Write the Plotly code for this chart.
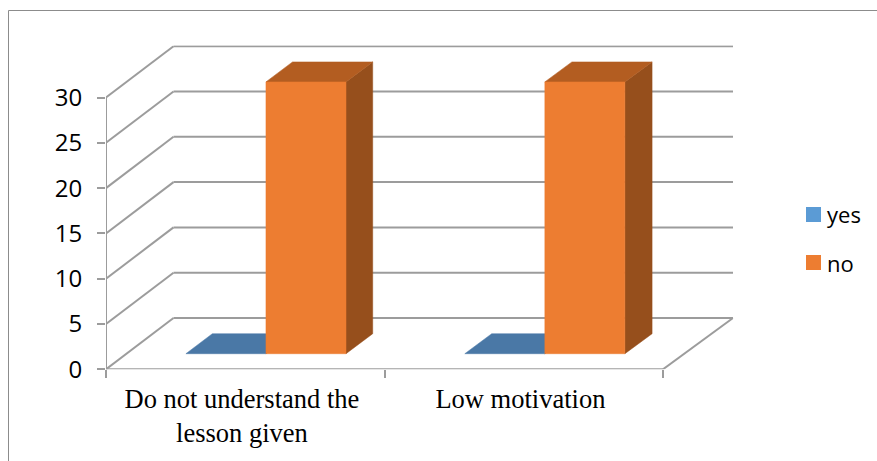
import plotly.graph_objects as go

# Survey answers per category
categories = ["Do not understand the<br>lesson given", "Low motivation"]
series_names = ["yes", "no"]
yes_values = [0, 0]
no_values = [30, 30]
value_ticks = [0, 5, 10, 15, 20, 25, 30]

SERIES_COLORS = {"yes": "#5B9BD5", "no": "#ED7D31"}
TOP_COLORS = {"yes": "#4A78A6", "no": "#B35D21"}
SIDE_COLORS = {"yes": "#3F6A94", "no": "#964F1C"}
GRID = "#9C9C9C"
TEXT = "#000000"

# Oblique projection of the 3D box onto the flat axes
DEPTH_X = 0.2424
DEPTH_X_STRETCH = 0.0045
DEPTH_Y = 5.66
BAR_WIDTH = 0.287
BAR_NEAR, BAR_FAR = 0.304, 0.694


def project(c, v, d):
    return c + d * (DEPTH_X + DEPTH_X_STRETCH * c), v + d * DEPTH_Y


def polygon(corners):
    pts = [project(*p) for p in corners]
    pts.append(pts[0])
    return [p[0] for p in pts], [p[1] for p in pts]


fig = go.Figure()


def add_line(corners):
    xs, ys = zip(*[project(*p) for p in corners])
    fig.add_trace(go.Scatter(x=xs, y=ys, mode="lines", cliponaxis=False, showlegend=False,
                             hoverinfo="skip", line=dict(color=GRID, width=2)))


def add_face(corners, color):
    xs, ys = polygon(corners)
    fig.add_trace(go.Scatter(x=xs, y=ys, mode="lines", fill="toself", fillcolor=color,
                             cliponaxis=False, showlegend=False, hoverinfo="skip",
                             line=dict(color=color, width=0.5)))


n_cat = len(categories)

# Walls: back gridlines and the diagonals running along the left side
for v in value_ticks:
    add_line([(0, v, 1), (n_cat, v, 1)])
    add_line([(0, v, 0), (0, v, 1)])

# Floor edges and the vertical value axis
add_line([(0, 0, 0), (n_cat, 0, 0)])
add_line([(n_cat, 0, 0), (n_cat, 0, 1)])
add_line([(0, 0, 0), (0, value_ticks[-1], 0)])


def add_bar(left, value, name):
    right = left + BAR_WIDTH
    near, far = BAR_NEAR, BAR_FAR
    add_face([(right, 0, near), (right, 0, far), (right, value, far), (right, value, near)], SIDE_COLORS[name])
    add_face([(left, value, near), (right, value, near), (right, value, far), (left, value, far)], TOP_COLORS[name])
    if value > 0:
        add_face([(left, 0, near), (right, 0, near), (right, value, near), (left, value, near)], SERIES_COLORS[name])


for i in range(n_cat):
    center = i + 0.5
    add_bar(center - BAR_WIDTH, yes_values[i], "yes")
    add_bar(center, no_values[i], "no")

W, H = 877, 461
left_px, right_px = 106, 733.3
bottom_px, top_px = 369.3, 45.5
x_max = (right_px - left_px) / 278.5
y_max = (bottom_px - top_px) / 9.06

# Legend keys and labels at the right of the chart
shapes = [
    dict(type="line", xref="paper", yref="paper", x0=8.5 / W, x1=8.5 / W, y0=0, y1=1 - 10.5 / H,
         line=dict(color="#8C8C8C", width=1)),
    dict(type="line", xref="paper", yref="paper", x0=8.5 / W, x1=1, y0=1 - 10.5 / H, y1=1 - 10.5 / H,
         line=dict(color="#8C8C8C", width=1)),
]
annotations = []
for name, key_top in zip(series_names, (207, 255)):
    shapes.append(dict(type="rect", xref="paper", yref="paper",
                       x0=806 / W, x1=821 / W, y0=1 - (key_top + 15) / H, y1=1 - key_top / H,
                       fillcolor=SERIES_COLORS[name], line=dict(width=0)))
    annotations.append(dict(text=name, xref="paper", yref="paper", showarrow=False,
                            x=825 / W, y=1 - (key_top + 7.5) / H, xanchor="left", yanchor="middle",
                            font=dict(family="Open Sans", size=22, color=TEXT)))

fig.update_layout(
    width=W, height=H,
    margin=dict(l=0, r=0, t=0, b=0, autoexpand=False),
    paper_bgcolor="white", plot_bgcolor="white",
    showlegend=False,
    xaxis=dict(
        domain=[left_px / W, right_px / W], range=[0, x_max],
        showgrid=False, zeroline=False, showline=False,
        tickmode="array", tickvals=[i + 0.488 for i in range(n_cat)], ticktext=categories,
        ticks="", tickangle=0, ticklabelstandoff=11,
        tickfont=dict(family="Liberation Serif", size=26.5, color=TEXT),
        minor=dict(tickmode="array", tickvals=list(range(n_cat + 1)), ticks="outside",
                   ticklen=8, tickcolor=GRID, tickwidth=1.5, showgrid=False),
    ),
    yaxis=dict(
        domain=[1 - bottom_px / H, 1 - top_px / H], range=[0, y_max],
        showgrid=False, zeroline=False, showline=False,
        tickmode="array", tickvals=value_ticks,
        ticks="outside", ticklen=8, tickcolor=GRID, tickwidth=1.5, ticklabelstandoff=10,
        tickfont=dict(family="Open Sans", size=24, color=TEXT),
    ),
    shapes=shapes,
    annotations=annotations,
)

fig.write_html("out.html")
